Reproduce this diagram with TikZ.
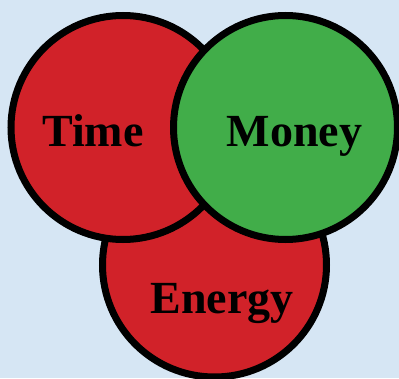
\documentclass[tikz,border=0pt]{standalone}
\usepackage{fontspec}
\setmainfont{Liberation Serif}
\usepackage{xcolor}
\usepackage{tikz}
\usetikzlibrary{backgrounds}

\definecolor{skyback}{RGB}{214,230,244}
\definecolor{tred}{RGB}{209,34,41}
\definecolor{mgreen}{RGB}{65,173,73}

\begin{document}
\begin{tikzpicture}[x=1pt, y=1pt,
	ring/.style={circle, draw=black, line width=7pt, minimum size=224pt, inner sep=0pt},
	word/.style={anchor=base, inner sep=0pt, font=\fontsize{46}{50}\selectfont\bfseries}]
	\useasboundingbox (0,0) rectangle (399,378);
	\fill[skyback] (0,0) rectangle (399,378);
	\node[ring, fill=tred](energy) at (214.5,113){};
	\node[ring, fill=tred](time) at (123,250.5){};
	\node[ring, fill=mgreen](money) at (285.5,250.5){};
	\node[word](timetext) at (93,231){Time};
	\node[word](moneytext) at (294.5,231){Money};
	\node[word](energytext) at (222,65){Energy};
\end{tikzpicture}
\end{document}
